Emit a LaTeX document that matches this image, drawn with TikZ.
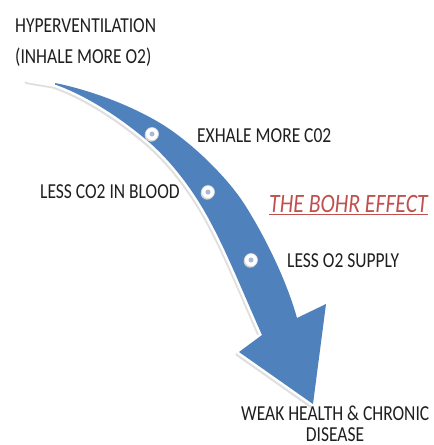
\documentclass[tikz,border=0pt]{standalone}
\usepackage{fontspec}
\setmainfont{Carlito}
\definecolor{arrowblue}{HTML}{4F81BD}
\definecolor{bohrred}{HTML}{C0504D}
\definecolor{dotblue}{HTML}{A7BAD9}
\newcommand\vst[1]{\scalebox{1}[1.22]{#1}}
% #1 = tip point
\newcommand\arrowshape[1]{(#1) -- (55,83)
  .. controls (90,90) and (130,105) .. (160,123)
  .. controls (190,141) and (225,175) .. (243,202)
  .. controls (260,228) and (285,275) .. (297,318)
  -- (326,304) -- (313,404) -- (239,352) -- (262,335)
  .. controls (245,297) and (228,255) .. (212,225)
  .. controls (198,198) and (177,167) .. (150,143)
  .. controls (120,117) and (85,95) .. (55,84.5) -- cycle}
\tikzset{
  lbl/.style={anchor=base west, inner sep=0pt, font=\fontsize{17.5}{20}\selectfont, text=black!88},
  dotout/.style={circle, fill=white, draw=gray!30, line width=0.6pt, minimum size=13pt, inner sep=0pt},
  dotshadow/.style={circle, fill=gray!35, minimum size=13pt, inner sep=0pt, xshift=-0.8pt, yshift=-1.2pt},
  dotin/.style={circle, fill=dotblue, minimum size=5pt, inner sep=0pt}
}
\begin{document}
\begin{tikzpicture}[x=1pt,y=-1pt]
\useasboundingbox[fill=white] (0,0) rectangle (434,445);
% soft shadow
\begin{scope}[shift={(-2,2.5)}]
  \fill[gray!25, draw=gray!25, line width=3pt, line join=round] \arrowshape{28,80};
\end{scope}
% white outline and body
\draw[white, fill=white, line width=5pt, line join=round] \arrowshape{28,80};
\fill[arrowblue] \arrowshape{55,83.5};
% dots
\node[dotshadow] (s1) at (152,134) {};
\node[dotshadow] (s2) at (208,192) {};
\node[dotshadow] (s3) at (251,260) {};
\node[dotout] (d1) at (152,134) {};
\node[dotout] (d2) at (208,192) {};
\node[dotout] (d3) at (251,260) {};
\node[dotin] (i1) at (d1) {};
\node[dotin] (i2) at (d2) {};
\node[dotin] (i3) at (d3) {};
% labels
\node[lbl] (hyp) at (15,32) {\vst{HYPERVENTILATION}};
\node[lbl] (inh) at (15,63) {\vst{(INHALE MORE O2)}};
\node[lbl] (exh) at (197,142) {\vst{EXHALE MORE C02}};
\node[lbl] (lco) at (40,198) {\vst{LESS CO2 IN BLOOD}};
\node[lbl, font=\fontsize{21.7}{24}\selectfont\itshape, text=bohrred] (bohr) at (269,212) {\vst{THE BOHR EFFECT}};
\draw[bohrred, line width=1pt] (bohr.base west) ++(0,2) coordinate (u1) -- (u1 -| bohr.east);
\node[lbl] (lo2) at (287,267) {\vst{LESS O2 SUPPLY}};
\node[lbl] (weak) at (241,420) {\vst{WEAK HEALTH \& CHRONIC}};
\node[lbl, anchor=base] (dis) at (335,441) {\vst{DISEASE}};
\end{tikzpicture}
\end{document}
